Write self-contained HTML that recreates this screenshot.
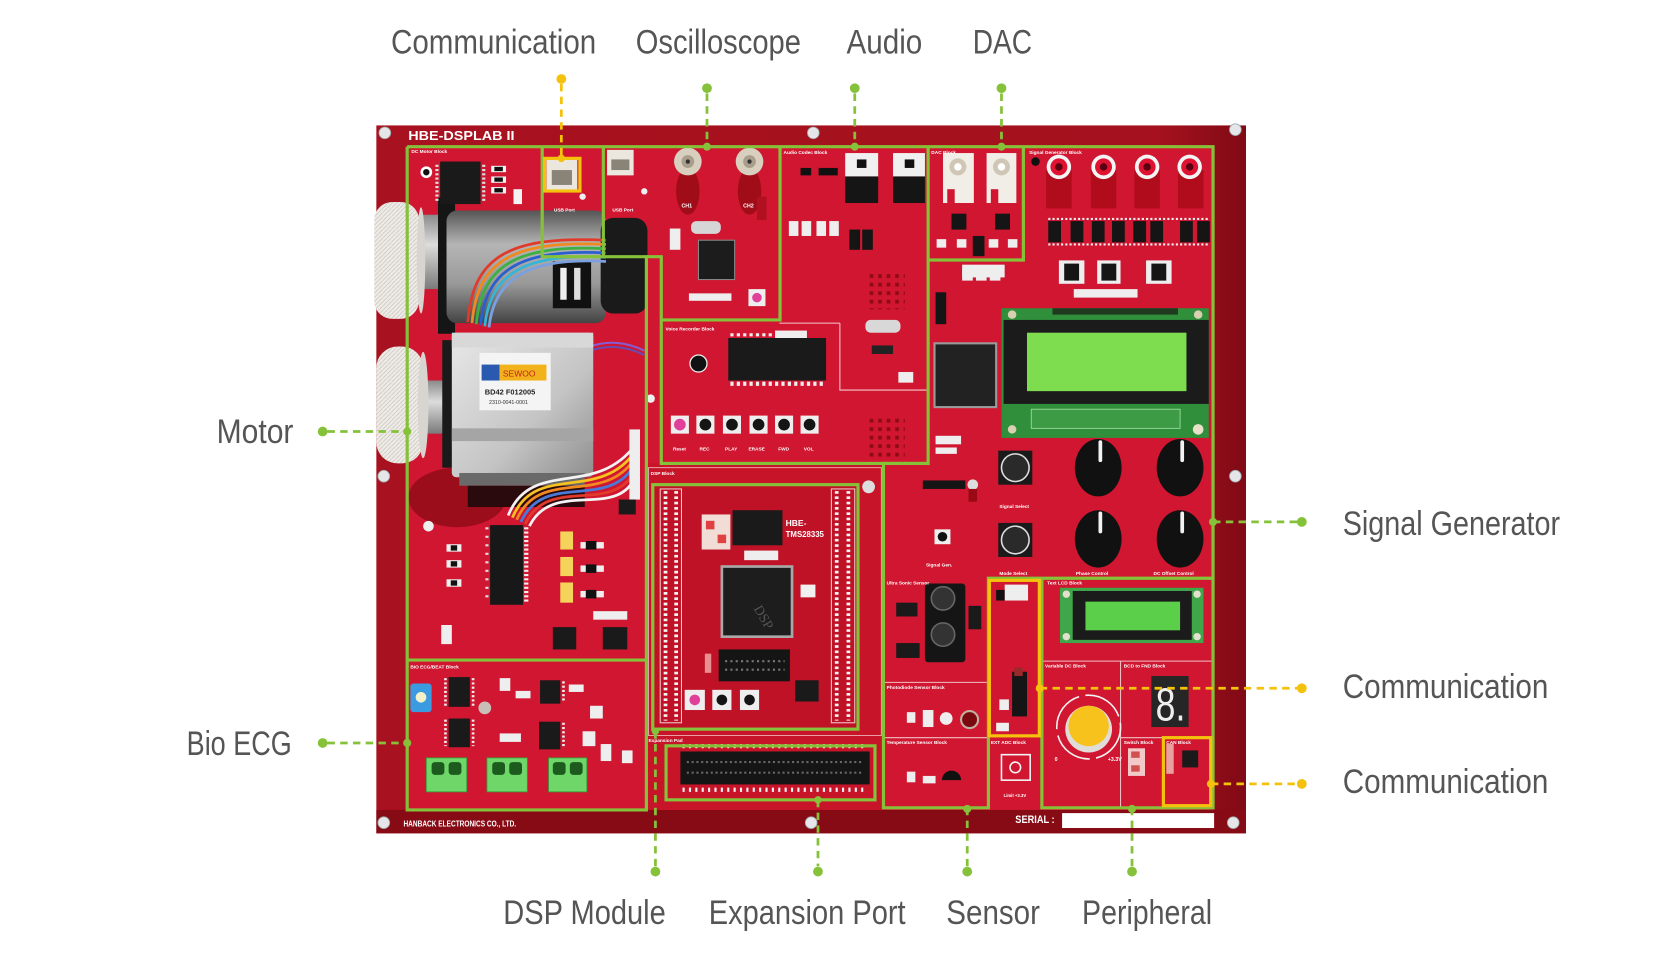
<!DOCTYPE html>
<html><head><meta charset="utf-8"><style>
html,body{margin:0;padding:0;background:#fff;width:1667px;height:980px;overflow:hidden}
svg{display:block}
.lb{font-family:"Liberation Sans Narrow","Liberation Sans",sans-serif;font-size:32px;fill:#555}
.tn{font-family:"Liberation Sans",sans-serif;font-weight:bold;fill:#fff}
.tw{font-family:"Liberation Sans",sans-serif;fill:#fff}
</style></head><body>
<svg width="1667" height="980" viewBox="0 0 1568 922" preserveAspectRatio="none" xmlns="http://www.w3.org/2000/svg">
<defs>
 <linearGradient id="brd" x1="0" y1="0" x2="1" y2="0">
  <stop offset="0" stop-color="#a8111f"/><stop offset="0.9" stop-color="#a5111e"/><stop offset="1" stop-color="#800a15"/>
 </linearGradient>
 <linearGradient id="cyl" x1="0" y1="0" x2="0" y2="1">
  <stop offset="0" stop-color="#555"/><stop offset="0.3" stop-color="#b5b5b5"/><stop offset="0.65" stop-color="#999"/><stop offset="1" stop-color="#444"/>
 </linearGradient>
 <linearGradient id="shaft" x1="0" y1="0" x2="0" y2="1">
  <stop offset="0" stop-color="#8a8a8a"/><stop offset="0.4" stop-color="#dcdcdc"/><stop offset="1" stop-color="#7a7a7a"/>
 </linearGradient>
 <linearGradient id="silver" x1="0" y1="0" x2="1" y2="1">
  <stop offset="0" stop-color="#e8e8e8"/><stop offset="0.6" stop-color="#c4c4c4"/><stop offset="1" stop-color="#8e8e8e"/>
 </linearGradient>
 <pattern id="knurl" width="4" height="4" patternUnits="userSpaceOnUse">
  <rect width="4" height="4" fill="#efece8"/><path d="M0,4 L4,0" stroke="#cbc6bf" stroke-width="0.8"/>
 </pattern>
 <pattern id="grill" width="8" height="8" patternUnits="userSpaceOnUse">
  <rect x="2" y="2" width="3.5" height="3.5" fill="#8e0b16"/>
 </pattern>
</defs>

<rect width="1568" height="922" fill="#fff"/>

<!-- BOARD -->
<rect x="354" y="118" width="818" height="666" fill="url(#brd)"/>
<rect x="354" y="762" width="818" height="22" fill="#870b15"/>
<rect x="383" y="138" width="758" height="624" fill="#d01630"/>
<rect x="608" y="436" width="223" height="326" fill="#c71429"/>

<text class="tn" x="384" y="131.5" font-size="12" textLength="100" lengthAdjust="spacingAndGlyphs">HBE-DSPLAB II</text>
<text class="tn" x="379.5" y="777.5" font-size="7.5" textLength="106" lengthAdjust="spacingAndGlyphs">HANBACK ELECTRONICS CO., LTD.</text>

<!-- screws -->
<g fill="#e6e6ea" stroke="#9aa" stroke-width="0.8">
 <circle cx="362" cy="125" r="5.5"/><circle cx="765" cy="125" r="5.5"/><circle cx="1162" cy="122" r="5.5"/>
 <circle cx="361" cy="448" r="5.5"/><circle cx="1162" cy="448" r="5.5"/>
 <circle cx="361" cy="774" r="5.5"/><circle cx="763" cy="774" r="5.5"/><circle cx="1160" cy="774" r="5.5"/>
</g>

<!-- ===== MOTOR BLOCK ===== -->
<ellipse cx="430" cy="468" rx="46" ry="28" fill="#8e0b17" opacity="0.8"/>
<!-- shafts -->
<rect x="386" y="202" width="37" height="70" fill="url(#shaft)"/>
<rect x="388" y="358" width="40" height="50" fill="url(#shaft)"/>
<!-- white knobs -->
<rect x="352" y="190" width="42" height="110" rx="17" fill="url(#knurl)"/>
<rect x="354" y="326" width="44" height="110" rx="20" fill="url(#knurl)"/>
<ellipse cx="396" cy="245" rx="4" ry="50" fill="#d8d4cf"/>
<ellipse cx="398" cy="381" rx="5" ry="50" fill="#d8d4cf"/>
<!-- black bracket -->
<rect x="412" y="186" width="16" height="128" fill="#151515"/>
<rect x="416" y="320" width="10" height="120" fill="#1a1a1a"/>
<!-- driver chip -->
<rect x="414" y="152" width="38" height="40" fill="#1a1a1a"/>
<line x1="411" y1="155" x2="411" y2="190" stroke="#ddd" stroke-width="3" stroke-dasharray="2 2"/>
<line x1="455" y1="155" x2="455" y2="190" stroke="#ddd" stroke-width="3" stroke-dasharray="2 2"/>
<circle cx="401" cy="162" r="5.5" fill="#fff"/><circle cx="401" cy="162" r="3" fill="#111"/>
<g fill="#f2f2f2"><rect x="462" y="156" width="14" height="6"/><rect x="462" y="166" width="14" height="6"/><rect x="462" y="176" width="14" height="6"/><rect x="483" y="178" width="8" height="14"/></g>
<g fill="#111"><rect x="465" y="157" width="8" height="4"/><rect x="465" y="167" width="8" height="4"/><rect x="465" y="177" width="8" height="4"/></g>
<!-- DC motor -->
<rect x="420" y="198" width="150" height="106" rx="10" fill="url(#cyl)"/>
<rect x="520" y="246" width="36" height="44" fill="#111"/>
<rect x="527" y="252" width="6" height="30" fill="#eee"/><rect x="540" y="252" width="6" height="30" fill="#ddd"/>
<rect x="565" y="205" width="44" height="90" rx="12" fill="#1a1a1a"/>
<!-- rainbow wires -->
<g fill="none" stroke-width="2.6">
 <path d="M440,303 C445,240 480,222 570,226" stroke="#e23a2a"/>
 <path d="M444,304 C449,244 484,226 570,230" stroke="#f08a20"/>
 <path d="M448,305 C453,248 488,230 570,234" stroke="#3cb043"/>
 <path d="M452,306 C457,252 492,234 570,238" stroke="#2a5fd0"/>
 <path d="M456,307 C461,256 496,238 570,242" stroke="#35b5d8"/>
 <path d="M460,308 C465,260 500,242 570,246" stroke="#7aa0e0"/>
</g>
<!-- purple wires -->
<g fill="none" stroke-width="2"><path d="M545,330 C570,318 590,322 606,330" stroke="#8a5ad0"/><path d="M545,334 C570,322 590,326 606,334" stroke="#6a4ab0"/></g>
<!-- stepper -->
<rect x="425" y="313" width="133" height="136" rx="4" fill="url(#silver)"/>
<rect x="425" y="313" width="133" height="14" fill="#d8d8d8"/>
<rect x="425" y="403" width="133" height="12" fill="#a5a5a5"/>
<rect x="432" y="445" width="118" height="12" fill="#6a6a6a"/>
<rect x="451" y="332" width="67" height="54" fill="#f4f4f4"/>
<rect x="453" y="343" width="17" height="15" fill="#2a5ab0"/>
<rect x="470" y="343" width="44" height="15" fill="#f2b21c"/>
<text x="473" y="354" font-family="Liberation Sans,sans-serif" font-size="8" fill="#c02020">SEWOO</text>
<text x="456" y="371" font-family="Liberation Sans,sans-serif" font-size="7" font-weight="bold" fill="#222">BD42 F012005</text>
<text x="460" y="380" font-family="Liberation Sans,sans-serif" font-size="5" fill="#333">2310-0041-0001</text>
<rect x="440" y="457" width="110" height="20" fill="#2a0a0c"/>
<!-- lower wires -->
<g fill="none" stroke-width="2.6">
 <path d="M478,485 C500,430 560,470 598,418" stroke="#f2f2f2"/>
 <path d="M482,487 C504,434 564,474 598,424" stroke="#f5c220"/>
 <path d="M486,489 C508,438 568,478 598,430" stroke="#f08a20"/>
 <path d="M490,491 C512,442 572,482 598,436" stroke="#4a7ad8"/>
 <path d="M494,493 C516,446 576,486 598,442" stroke="#e23a2a"/>
 <path d="M498,495 C520,450 580,490 598,448" stroke="#f4f4f4"/>
</g>
<rect x="592" y="404" width="10" height="66" fill="#eee"/>
<!-- lower motor parts -->
<circle cx="403" cy="495" r="5" fill="#eee"/>
<rect x="461" y="494" width="31" height="75" fill="#181818"/>
<line x1="495" y1="496" x2="495" y2="567" stroke="#eee" stroke-width="4" stroke-dasharray="2 2"/>
<line x1="458" y1="496" x2="458" y2="567" stroke="#ddd" stroke-width="3" stroke-dasharray="2 6"/>
<g fill="#f4d35a"><rect x="527" y="500" width="12" height="17"/><rect x="527" y="524" width="12" height="18"/><rect x="527" y="548" width="12" height="19"/></g>
<g fill="#eee"><rect x="420" y="512" width="14" height="7"/><rect x="420" y="527" width="14" height="7"/><rect x="420" y="545" width="14" height="7"/><rect x="415" y="588" width="10" height="18"/><rect x="546" y="510" width="22" height="6"/><rect x="546" y="532" width="22" height="6"/><rect x="546" y="556" width="22" height="6"/><rect x="558" y="575" width="32" height="8"/></g>
<g fill="#111"><rect x="424" y="513" width="6" height="5"/><rect x="424" y="528" width="6" height="5"/><rect x="424" y="546" width="6" height="5"/><rect x="551" y="509" width="10" height="8"/><rect x="551" y="531" width="10" height="8"/><rect x="551" y="555" width="10" height="8"/></g>
<rect x="520" y="590" width="22" height="21" fill="#1a1a1a"/><rect x="567" y="590" width="23" height="21" fill="#1a1a1a"/>
<rect x="582" y="470" width="16" height="14" fill="#1a1a1a"/>

<!-- ===== USB / COMM ===== -->
<rect x="514" y="148" width="29" height="32" fill="#ece7de"/><rect x="519" y="160" width="19" height="14" fill="#8a8378"/>
<rect x="571" y="141" width="25" height="24" fill="#ece7de"/><rect x="575" y="150" width="17" height="10" fill="#8a8378"/>
<circle cx="548" cy="185" r="3" fill="#eee"/><circle cx="606" cy="180" r="3" fill="#eee"/>
<text class="tn" x="521" y="199" font-size="4.5">USB Port</text><text class="tn" x="576" y="199" font-size="4.5">USB Port</text>

<!-- ===== OSCILLOSCOPE ===== -->
<ellipse cx="647" cy="180" rx="11" ry="22" fill="#a00c18"/>
<ellipse cx="705" cy="180" rx="11" ry="22" fill="#a00c18"/>
<circle cx="647" cy="152" r="13" fill="#d8cfbf"/><circle cx="647" cy="152" r="6" fill="#a99e8c"/><circle cx="647" cy="152" r="2" fill="#333"/>
<circle cx="705" cy="152" r="13" fill="#d8cfbf"/><circle cx="705" cy="152" r="6" fill="#a99e8c"/><circle cx="705" cy="152" r="2" fill="#333"/>
<text class="tn" x="641" y="195" font-size="5">CH1</text><text class="tn" x="699" y="195" font-size="5">CH2</text>
<rect x="650" y="208" width="28" height="12" rx="5" fill="#d6d6d6"/>
<rect x="657" y="226" width="34" height="37" fill="#1c1c1c" stroke="#888" stroke-width="1"/>
<rect x="712" y="185" width="9" height="22" fill="#b01020"/>
<rect x="704" y="272" width="16" height="16" fill="#eee"/><circle cx="712" cy="280" r="4.5" fill="#e0409a"/>
<rect x="648" y="276" width="40" height="7" fill="#eee"/>
<rect x="630" y="215" width="10" height="20" fill="#eee"/>

<!-- ===== AUDIO ===== -->
<rect x="753" y="158" width="10" height="7" fill="#111"/><rect x="770" y="158" width="18" height="7" fill="#111"/>
<rect x="795" y="144" width="31" height="22" fill="#f0f0f0"/><rect x="795" y="166" width="31" height="25" fill="#151515"/><rect x="806" y="150" width="9" height="8" fill="#111"/>
<rect x="840" y="144" width="30" height="22" fill="#f0f0f0"/><rect x="840" y="166" width="30" height="25" fill="#151515"/><rect x="851" y="150" width="9" height="8" fill="#111"/>
<g fill="#eee"><rect x="742" y="208" width="9" height="14"/><rect x="754" y="208" width="9" height="14"/><rect x="768" y="208" width="9" height="14"/><rect x="780" y="208" width="9" height="14"/></g>
<rect x="799" y="216" width="10" height="19" fill="#151515"/><rect x="811" y="216" width="10" height="19" fill="#151515"/>
<rect x="815" y="255" width="36" height="36" fill="url(#grill)"/>
<rect x="815" y="390" width="36" height="42" fill="url(#grill)"/>
<rect x="814" y="301" width="33" height="12" rx="5" fill="#d8d8d8"/>
<rect x="820" y="325" width="20" height="8" fill="#222"/>
<rect x="845" y="350" width="14" height="10" fill="#eee"/>
<polyline points="790,304 790,367 873,367" fill="none" stroke="#f3c9cc" stroke-width="1"/>
<line x1="733" y1="304" x2="790" y2="304" stroke="#f3c9cc" stroke-width="1"/>

<!-- ===== DAC ===== -->
<rect x="887" y="144" width="29" height="47" fill="#f1eee8"/><circle cx="901" cy="157" r="8" fill="#cfc6b5"/><circle cx="901" cy="157" r="3.5" fill="#fff"/><rect x="891" y="178" width="7" height="13" fill="#d01630"/>
<rect x="928" y="144" width="28" height="47" fill="#f1eee8"/><circle cx="942" cy="157" r="8" fill="#cfc6b5"/><circle cx="942" cy="157" r="3.5" fill="#fff"/><rect x="932" y="178" width="7" height="13" fill="#d01630"/>
<rect x="895" y="201" width="14" height="15" fill="#151515"/><rect x="936" y="201" width="14" height="15" fill="#151515"/>
<rect x="915" y="222" width="11" height="19" fill="#151515"/>
<g fill="#eee"><rect x="881" y="225" width="9" height="8"/><rect x="900" y="225" width="9" height="8"/><rect x="930" y="225" width="9" height="8"/><rect x="948" y="225" width="9" height="8"/></g>
<g fill="#eee"><rect x="905" y="252" width="10" height="12"/><rect x="918" y="252" width="10" height="12"/><rect x="931" y="252" width="10" height="12"/></g>

<!-- ===== SIGNAL GENERATOR ===== -->
<g>
 <rect x="984" y="160" width="24" height="36" fill="#b00c1c"/><rect x="1026" y="160" width="24" height="36" fill="#b00c1c"/><rect x="1067" y="160" width="24" height="36" fill="#b00c1c"/><rect x="1108" y="160" width="24" height="36" fill="#b00c1c"/>
 <g fill="#f4f4f4"><circle cx="996" cy="157" r="11.5"/><circle cx="1038" cy="157" r="11.5"/><circle cx="1079" cy="157" r="11.5"/><circle cx="1119" cy="157" r="11.5"/></g>
 <g fill="#e01232"><circle cx="996" cy="157" r="8"/><circle cx="1038" cy="157" r="8"/><circle cx="1079" cy="157" r="8"/><circle cx="1119" cy="157" r="8"/></g>
 <g fill="#5a0010"><circle cx="996" cy="157" r="3.5"/><circle cx="1038" cy="157" r="3.5"/><circle cx="1079" cy="157" r="3.5"/><circle cx="1119" cy="157" r="3.5"/></g>
 <circle cx="974" cy="152" r="4" fill="#111"/>
</g>
<g fill="#151515"><rect x="986" y="208" width="12" height="20"/><rect x="1007" y="208" width="12" height="20"/><rect x="1027" y="208" width="12" height="20"/><rect x="1046" y="208" width="12" height="20"/><rect x="1066" y="208" width="12" height="20"/><rect x="1082" y="208" width="12" height="20"/><rect x="1110" y="208" width="12" height="20"/><rect x="1126" y="208" width="12" height="20"/></g>
<g stroke="#eee" stroke-width="2" stroke-dasharray="2 2"><line x1="986" y1="206" x2="1138" y2="206"/><line x1="986" y1="230" x2="1138" y2="230"/></g>
<g fill="#eee"><rect x="996" y="245" width="24" height="22"/><rect x="1032" y="245" width="22" height="22"/><rect x="1078" y="245" width="24" height="22"/><rect x="1010" y="272" width="60" height="8"/></g>
<g fill="#151515"><rect x="1001" y="248" width="14" height="16"/><rect x="1036" y="248" width="14" height="16"/><rect x="1083" y="248" width="14" height="16"/></g>
<rect x="905" y="249" width="40" height="12" fill="#eee"/>
<rect x="880" y="275" width="10" height="30" fill="#151515"/>
<!-- QFP -->
<rect x="879" y="323" width="58" height="60" fill="#222" stroke="#9a9a9a" stroke-width="2"/>
<!-- LCD 20x4 -->
<rect x="942" y="290" width="195" height="122" fill="#2f8f3a"/>
<rect x="944" y="301" width="193" height="79" fill="#1b1b1b"/>
<rect x="966" y="313" width="150" height="55" fill="#7ddd4f"/>
<rect x="990" y="290" width="118" height="6" fill="#1f3a1f"/>
<rect x="970" y="385" width="140" height="18" fill="#3d9a45" stroke="#a0e0a0" stroke-width="0.8"/>
<circle cx="952" cy="296" r="4" fill="#d8d0b0"/><circle cx="1127" cy="296" r="4" fill="#d8d0b0"/><circle cx="952" cy="404" r="4" fill="#d8d0b0"/><circle cx="1127" cy="404" r="5" fill="#e8e0c8"/>
<!-- buttons -->
<rect x="939" y="424" width="32" height="32" fill="#1a1a1a"/><circle cx="955" cy="440" r="13" fill="#2a2a2a" stroke="#ddd" stroke-width="1.5"/>
<rect x="939" y="492" width="32" height="32" fill="#1a1a1a"/><circle cx="955" cy="508" r="13" fill="#2a2a2a" stroke="#ddd" stroke-width="1.5"/>
<rect x="879" y="498" width="15" height="14" fill="#eee"/><circle cx="886.5" cy="505" r="4.5" fill="#111"/>
<rect x="868" y="452" width="40" height="8" fill="#151515"/><circle cx="915" cy="456" r="5" fill="#ddd"/><rect x="911" y="460" width="8" height="12" fill="#9a0a14"/>
<g fill="#eee"><rect x="880" y="410" width="24" height="8"/><rect x="880" y="421" width="20" height="6"/></g>
<!-- knobs -->
<g>
 <ellipse cx="1033" cy="440" rx="22" ry="27" fill="#111"/><ellipse cx="1110" cy="440" rx="22" ry="27" fill="#111"/>
 <ellipse cx="1033" cy="507" rx="22" ry="27" fill="#111"/><ellipse cx="1110" cy="507" rx="22" ry="27" fill="#111"/>
 <g stroke="#f2f2f2" stroke-width="3.5" stroke-linecap="round"><line x1="1035" y1="416" x2="1035" y2="433"/><line x1="1112" y1="416" x2="1112" y2="433"/><line x1="1035" y1="483" x2="1035" y2="500"/><line x1="1112" y1="483" x2="1112" y2="500"/></g>
</g>
<text class="tn" x="940" y="478" font-size="4.5">Signal Select</text><text class="tn" x="940" y="541" font-size="4.5">Mode Select</text>
<text class="tn" x="1012" y="541" font-size="4.5">Phase Control</text><text class="tn" x="1085" y="541" font-size="4.5">DC Offset Control</text>
<text class="tn" x="871" y="533" font-size="4.5">Signal Gen.</text>

<!-- ===== VOICE RECORDER ===== -->
<rect x="685" y="318" width="92" height="40" fill="#1a1a1a"/>
<line x1="687" y1="361" x2="777" y2="361" stroke="#eee" stroke-width="4" stroke-dasharray="3 3"/>
<line x1="687" y1="315" x2="727" y2="315" stroke="#eee" stroke-width="3" stroke-dasharray="3 3"/>
<rect x="729" y="311" width="30" height="7" fill="#eee"/>
<circle cx="657" cy="342" r="8" fill="#111" stroke="#eee" stroke-width="1.2"/>
<g fill="#eee"><rect x="631" y="391" width="17" height="17"/><rect x="655" y="391" width="17" height="17"/><rect x="680" y="391" width="17" height="17"/><rect x="705" y="391" width="17" height="17"/><rect x="729" y="391" width="17" height="17"/><rect x="753" y="391" width="17" height="17"/></g>
<circle cx="639.5" cy="399.5" r="5.5" fill="#e0409a"/>
<g fill="#151515"><circle cx="663.5" cy="399.5" r="5.5"/><circle cx="688.5" cy="399.5" r="5.5"/><circle cx="713.5" cy="399.5" r="5.5"/><circle cx="737.5" cy="399.5" r="5.5"/><circle cx="761.5" cy="399.5" r="5.5"/></g>
<g class="tn" font-size="4.5"><text x="633" y="424">Reset</text><text x="658" y="424">REC</text><text x="682" y="424">PLAY</text><text x="704" y="424">ERASE</text><text x="732" y="424">FWD</text><text x="756" y="424">VOL</text></g>
<circle cx="612" cy="375" r="4" fill="#eee"/>

<!-- ===== DSP MODULE ===== -->
<rect x="614" y="456" width="193" height="230" fill="#c01226"/>
<rect x="621" y="460" width="20" height="220" fill="none" stroke="#f0c8cc" stroke-width="1"/>
<rect x="782" y="460" width="22" height="220" fill="none" stroke="#f0c8cc" stroke-width="1"/>
<g stroke="#f4f4f4" stroke-width="3.5" stroke-dasharray="2.5 2.5">
 <line x1="626" y1="462" x2="626" y2="678"/><line x1="636" y1="462" x2="636" y2="678"/>
 <line x1="787" y1="462" x2="787" y2="678"/><line x1="798" y1="462" x2="798" y2="678"/>
</g>
<rect x="689" y="480" width="47" height="33" fill="#1a1a1a"/>
<rect x="660" y="484" width="27" height="33" fill="#f1dcd6"/><rect x="664" y="490" width="8" height="8" fill="#e04040"/><rect x="675" y="503" width="8" height="8" fill="#e04040"/>
<text class="tn" x="739" y="495" font-size="8">HBE-</text><text class="tn" x="739" y="505" font-size="8" textLength="36" lengthAdjust="spacingAndGlyphs">TMS28335</text>
<rect x="679" y="533" width="66" height="66" fill="#1d1d1d" stroke="#a8a8a8" stroke-width="2.5"/>
<text x="713" y="575" font-family="Liberation Serif,serif" font-size="13" fill="#555" transform="rotate(60 713 570)">DSP</text>
<rect x="700" y="518" width="32" height="9" fill="#eee"/>
<rect x="753" y="550" width="14" height="12" fill="#f0f0f0"/>
<rect x="676" y="611" width="67" height="30" fill="#151515"/>
<line x1="682" y1="622" x2="738" y2="622" stroke="#777" stroke-width="2" stroke-dasharray="2 3"/>
<line x1="682" y1="630" x2="738" y2="630" stroke="#777" stroke-width="2" stroke-dasharray="2 3"/>
<rect x="663" y="615" width="6" height="18" fill="#e89090"/>
<rect x="644" y="649" width="19" height="19" fill="#eee"/><circle cx="653.5" cy="658.5" r="5" fill="#e0409a"/>
<rect x="670" y="649" width="18" height="19" fill="#eee"/><circle cx="679" cy="658.5" r="5" fill="#151515"/>
<rect x="696" y="649" width="18" height="19" fill="#eee"/><circle cx="705" cy="658.5" r="5" fill="#151515"/>
<rect x="748" y="640" width="22" height="20" fill="#1a1a1a"/>
<circle cx="817" cy="458" r="6" fill="#ddd"/>
<text class="tn" x="612" y="447" font-size="4.5">DSP Block</text>
<rect x="610" y="440" width="219" height="252" fill="none" stroke="#f0b8be" stroke-width="0.8"/>

<!-- ===== EXPANSION ===== -->
<rect x="640" y="707" width="178" height="31" fill="#151515"/>
<line x1="646" y1="717" x2="812" y2="717" stroke="#666" stroke-width="2" stroke-dasharray="2 2.5"/>
<line x1="646" y1="727" x2="812" y2="727" stroke="#666" stroke-width="2" stroke-dasharray="2 2.5"/>
<line x1="642" y1="702" x2="816" y2="702" stroke="#f2f2f2" stroke-width="4" stroke-dasharray="2 4"/>
<line x1="642" y1="743" x2="816" y2="743" stroke="#f2f2f2" stroke-width="4" stroke-dasharray="2 4"/>
<text class="tn" x="610" y="698" font-size="4.5">Expansion Pad</text>

<!-- ===== BIO ECG ===== -->
<rect x="386" y="643" width="20" height="27" rx="3" fill="#3b9be0"/><circle cx="396" cy="656" r="5" fill="#f4f0c8"/>
<g fill="#1a1a1a"><rect x="422" y="637" width="20" height="28"/><rect x="422" y="676" width="20" height="27"/><rect x="508" y="640" width="19" height="22"/><rect x="507" y="679" width="20" height="26"/></g>
<g stroke="#eee" stroke-width="2.5" stroke-dasharray="2 2"><line x1="419" y1="638" x2="419" y2="664"/><line x1="445" y1="638" x2="445" y2="664"/><line x1="419" y1="677" x2="419" y2="702"/><line x1="445" y1="677" x2="445" y2="702"/><line x1="530" y1="641" x2="530" y2="661"/><line x1="530" y1="680" x2="530" y2="704"/></g>
<g fill="#eee"><rect x="470" y="638" width="10" height="12"/><rect x="485" y="650" width="14" height="7"/><rect x="535" y="644" width="14" height="7"/><rect x="470" y="690" width="20" height="8"/><rect x="555" y="664" width="12" height="12"/><rect x="565" y="700" width="10" height="16"/><rect x="585" y="706" width="10" height="12"/><rect x="548" y="688" width="12" height="14"/></g>
<circle cx="456" cy="666" r="6" fill="#c8c0b8"/>
<g fill="#6fd66a" stroke="#3a9a3a" stroke-width="0.8"><rect x="401" y="713" width="38" height="32"/><rect x="458" y="713" width="38" height="32"/><rect x="516" y="713" width="36" height="32"/></g>
<g fill="#1d5a1d"><rect x="406" y="717" width="12" height="12" rx="3"/><rect x="422" y="717" width="12" height="12" rx="3"/><rect x="463" y="717" width="12" height="12" rx="3"/><rect x="479" y="717" width="12" height="12" rx="3"/><rect x="520" y="717" width="12" height="12" rx="3"/><rect x="536" y="717" width="12" height="12" rx="3"/></g>
<text class="tn" x="386" y="629" font-size="4.5">BIO ECG/BEAT Block</text>

<!-- ===== SENSOR ===== -->
<rect x="870" y="549" width="38" height="74" rx="3" fill="#151515"/>
<circle cx="887" cy="563" r="11" fill="#333" stroke="#666" stroke-width="1.5"/><circle cx="887" cy="597" r="11" fill="#333" stroke="#666" stroke-width="1.5"/>
<rect x="843" y="567" width="20" height="13" fill="#1a1a1a"/><rect x="843" y="605" width="22" height="14" fill="#1a1a1a"/>
<rect x="911" y="570" width="12" height="22" fill="#1a1a1a"/>
<line x1="831" y1="642" x2="930" y2="642" stroke="#f0c0c4" stroke-width="1"/>
<line x1="831" y1="694" x2="930" y2="694" stroke="#f0c0c4" stroke-width="1"/>
<rect x="853" y="670" width="8" height="10" fill="#eee"/><rect x="868" y="668" width="10" height="16" fill="#eee"/>
<circle cx="890" cy="676" r="6" fill="#eee"/><circle cx="912" cy="677" r="8" fill="#7a0a10" stroke="#c0b0a0" stroke-width="2"/>
<path d="M886,734 a9,9 0 0 1 18,0 z" fill="#111"/><rect x="868" y="730" width="12" height="7" fill="#eee"/><rect x="853" y="726" width="8" height="10" fill="#eee"/>
<text class="tn" x="834" y="550" font-size="4.5">Ultra Sonic Sensor</text>
<text class="tn" x="834" y="648" font-size="4.5">Photodiode Sensor Block</text>
<text class="tn" x="834" y="700" font-size="4.5">Temperature Sensor Block</text>

<!-- IR / EXT ADC -->
<rect x="945" y="550" width="22" height="15" fill="#eee"/><rect x="937" y="555" width="8" height="10" fill="#111"/>
<rect x="952" y="632" width="14" height="42" fill="#151515"/><rect x="954" y="628" width="8" height="8" fill="#9a2a2a"/>
<rect x="940" y="658" width="9" height="10" fill="#eee"/><rect x="937" y="680" width="12" height="8" fill="#eee"/>
<text class="tn" x="932" y="700" font-size="4.5">EXT ADC Block</text>
<g fill="none" stroke="#f4f4f4" stroke-width="1.5"><rect x="942" y="710" width="27" height="24"/><circle cx="955" cy="722" r="5"/></g>
<text class="tn" x="944" y="750" font-size="4">Limit +3.3V</text>

<!-- ===== PERIPHERAL ===== -->
<rect x="997" y="553" width="135" height="52" fill="#3fa74a"/>
<rect x="1009" y="556" width="112" height="46" fill="#1b1b1b"/>
<rect x="1021" y="566" width="89" height="27" fill="#5ccf4a"/>
<g fill="#e4e0d0"><circle cx="1003" cy="559" r="3.5"/><circle cx="1126" cy="559" r="3.5"/><circle cx="1003" cy="599" r="3.5"/><circle cx="1126" cy="599" r="3.5"/></g>
<text class="tn" x="985" y="550" font-size="4.5">Text LCD Block</text>
<line x1="980" y1="622" x2="1141" y2="622" stroke="#f0c0c4" stroke-width="1"/>
<line x1="1054" y1="622" x2="1054" y2="760" stroke="#f0c0c4" stroke-width="1"/>
<line x1="1054" y1="694" x2="1141" y2="694" stroke="#f0c0c4" stroke-width="1"/>
<text class="tn" x="983" y="628" font-size="4.5">Variable DC Block</text>
<text class="tn" x="1057" y="628" font-size="4.5">BCD to FND Block</text>
<circle cx="1024" cy="684" r="30" fill="none" stroke="#f2f2f2" stroke-width="1.5" stroke-dasharray="40 6"/>
<circle cx="1024" cy="686" r="22" fill="#e0dcd8"/>
<circle cx="1024" cy="683" r="19" fill="#f6c21b"/>
<text class="tn" x="992" y="716" font-size="5">0</text><text class="tn" x="1042" y="716" font-size="5">+3.3V</text>
<rect x="1083" y="636" width="35" height="48" fill="#262626"/>
<text x="1087" y="678" font-family="Liberation Sans,sans-serif" font-size="44" fill="#eee" textLength="28" lengthAdjust="spacingAndGlyphs">8.</text>
<text class="tn" x="1057" y="700" font-size="4.5">Switch Block</text>
<rect x="1061" y="704" width="16" height="26" fill="#f2c8c8"/><rect x="1064" y="707" width="8" height="6" fill="#d05050"/><rect x="1064" y="720" width="8" height="6" fill="#d05050"/>
<rect x="1097" y="700" width="7" height="28" fill="#eaa0a0"/><rect x="1112" y="706" width="15" height="16" fill="#1a1a1a"/>
<text class="tn" x="1097" y="700" font-size="4.5">CAN Block</text>

<!-- SERIAL -->
<text class="tn" x="955" y="774.5" font-size="10" textLength="37" lengthAdjust="spacingAndGlyphs">SERIAL :</text>
<rect x="999" y="765" width="143" height="14" fill="#fff"/>

<!-- small block titles -->
<g class="tn" font-size="4.5">
 <text x="387" y="144">DC Motor Block</text>
 <text x="737" y="145">Audio Codec Block</text>
 <text x="876" y="145">DAC Block</text>
 <text x="968" y="145">Signal Generator Block</text>
 <text x="626" y="311">Voice Recorder Block</text>
</g>

<!-- ===== GREEN BLOCK OUTLINES ===== -->
<g fill="none" stroke="#86c13a" stroke-width="3" stroke-linejoin="miter">
 <path d="M383,138 H1141 V760 H980 V544 M383,138 V762 H608 V241.5 H510 V138"/>
 <path d="M567.5,138 V241.5 M608,241.5 H622 V436 H873 V138"/>
 <path d="M622,301 H733.7 V138"/>
 <path d="M873,244.6 H962.6 V138"/>
 <path d="M873,436 H831 V760 H929.7 V544 H1141"/>
 <path d="M383,621 H608"/>
 <rect x="614" y="456" width="193" height="230"/>
 <rect x="626.5" y="701.7" width="196.5" height="50.8"/>
</g>
<!-- yellow boxes -->
<g fill="none" stroke="#f4c20d" stroke-width="3">
 <rect x="512.3" y="149" width="33.2" height="30.7"/>
 <rect x="930.6" y="546" width="47" height="146.3"/>
 <rect x="1094.3" y="694" width="44.5" height="64"/>
</g>

<!-- ===== CONNECTORS ===== -->
<g fill="none" stroke-width="2.6" stroke-dasharray="7 5">
 <line x1="528" y1="79" x2="528" y2="149" stroke="#f4c20d"/>
 <line x1="665" y1="88" x2="665" y2="138" stroke="#86c13a"/>
 <line x1="804" y1="88" x2="804" y2="138" stroke="#86c13a"/>
 <line x1="942" y1="88" x2="942" y2="138" stroke="#86c13a"/>
 <line x1="308" y1="406" x2="383" y2="406" stroke="#86c13a"/>
 <line x1="308" y1="699" x2="383" y2="699" stroke="#86c13a"/>
 <line x1="1141" y1="491" x2="1220" y2="491" stroke="#86c13a"/>
 <line x1="978" y1="647.5" x2="1220" y2="647.5" stroke="#f4c20d"/>
 <line x1="1139" y1="737.5" x2="1220" y2="737.5" stroke="#f4c20d"/>
 <line x1="616.5" y1="688" x2="616.5" y2="815" stroke="#86c13a"/>
 <line x1="769.4" y1="752.5" x2="769.4" y2="815" stroke="#86c13a"/>
 <line x1="909.8" y1="760" x2="909.8" y2="815" stroke="#86c13a"/>
 <line x1="1064.8" y1="760" x2="1064.8" y2="815" stroke="#86c13a"/>
</g>
<g fill="#86c13a">
 <circle cx="665" cy="83" r="4.6"/><circle cx="804" cy="83" r="4.6"/><circle cx="942" cy="83" r="4.6"/>
 <circle cx="665" cy="138" r="3.8"/><circle cx="804" cy="138" r="3.8"/><circle cx="942" cy="138" r="3.8"/>
 <circle cx="303.5" cy="406" r="4.6"/><circle cx="383" cy="406" r="3.8"/>
 <circle cx="303.5" cy="699" r="4.6"/><circle cx="383" cy="699" r="3.8"/>
 <circle cx="1224.5" cy="491" r="4.6"/><circle cx="1141" cy="491" r="3.8"/>
 <circle cx="616.5" cy="820" r="4.6"/><circle cx="616.5" cy="688" r="3.5"/>
 <circle cx="769.4" cy="820" r="4.6"/><circle cx="769.4" cy="752.5" r="3.5"/>
 <circle cx="909.8" cy="820" r="4.6"/><circle cx="909.8" cy="761" r="3.8"/>
 <circle cx="1064.8" cy="820" r="4.6"/><circle cx="1064.8" cy="761" r="3.8"/>
</g>
<g fill="#f4c20d">
 <circle cx="528" cy="74.3" r="4.6"/><circle cx="528" cy="149" r="3.5"/>
 <circle cx="1224.5" cy="647.5" r="4.6"/><circle cx="978" cy="647.5" r="3.8"/>
 <circle cx="1224.5" cy="737.5" r="4.6"/><circle cx="1139" cy="737.5" r="3.8"/>
</g>

<!-- ===== LABELS ===== -->
<text class="lb" x="367.8" y="50.2" textLength="193" lengthAdjust="spacingAndGlyphs">Communication</text>
<text class="lb" x="598" y="50.2" textLength="155.4" lengthAdjust="spacingAndGlyphs">Oscilloscope</text>
<text class="lb" x="796.2" y="50.2" textLength="71.3" lengthAdjust="spacingAndGlyphs">Audio</text>
<text class="lb" x="915" y="50.2" textLength="55.8" lengthAdjust="spacingAndGlyphs">DAC</text>
<text class="lb" x="203.8" y="417" textLength="72.2" lengthAdjust="spacingAndGlyphs">Motor</text>
<text class="lb" x="175.6" y="710.2" textLength="98.8" lengthAdjust="spacingAndGlyphs">Bio ECG</text>
<text class="lb" x="1263" y="503.2" textLength="204.4" lengthAdjust="spacingAndGlyphs">Signal Generator</text>
<text class="lb" x="1263" y="656.9" textLength="193.4" lengthAdjust="spacingAndGlyphs">Communication</text>
<text class="lb" x="1263" y="746.2" textLength="193.4" lengthAdjust="spacingAndGlyphs">Communication</text>
<text class="lb" x="473.4" y="869.1" textLength="152.8" lengthAdjust="spacingAndGlyphs">DSP Module</text>
<text class="lb" x="666.7" y="869.1" textLength="185.1" lengthAdjust="spacingAndGlyphs">Expansion Port</text>
<text class="lb" x="890.1" y="869.1" textLength="88.1" lengthAdjust="spacingAndGlyphs">Sensor</text>
<text class="lb" x="1017.8" y="869.1" textLength="122.3" lengthAdjust="spacingAndGlyphs">Peripheral</text>
</svg>
</body></html>
